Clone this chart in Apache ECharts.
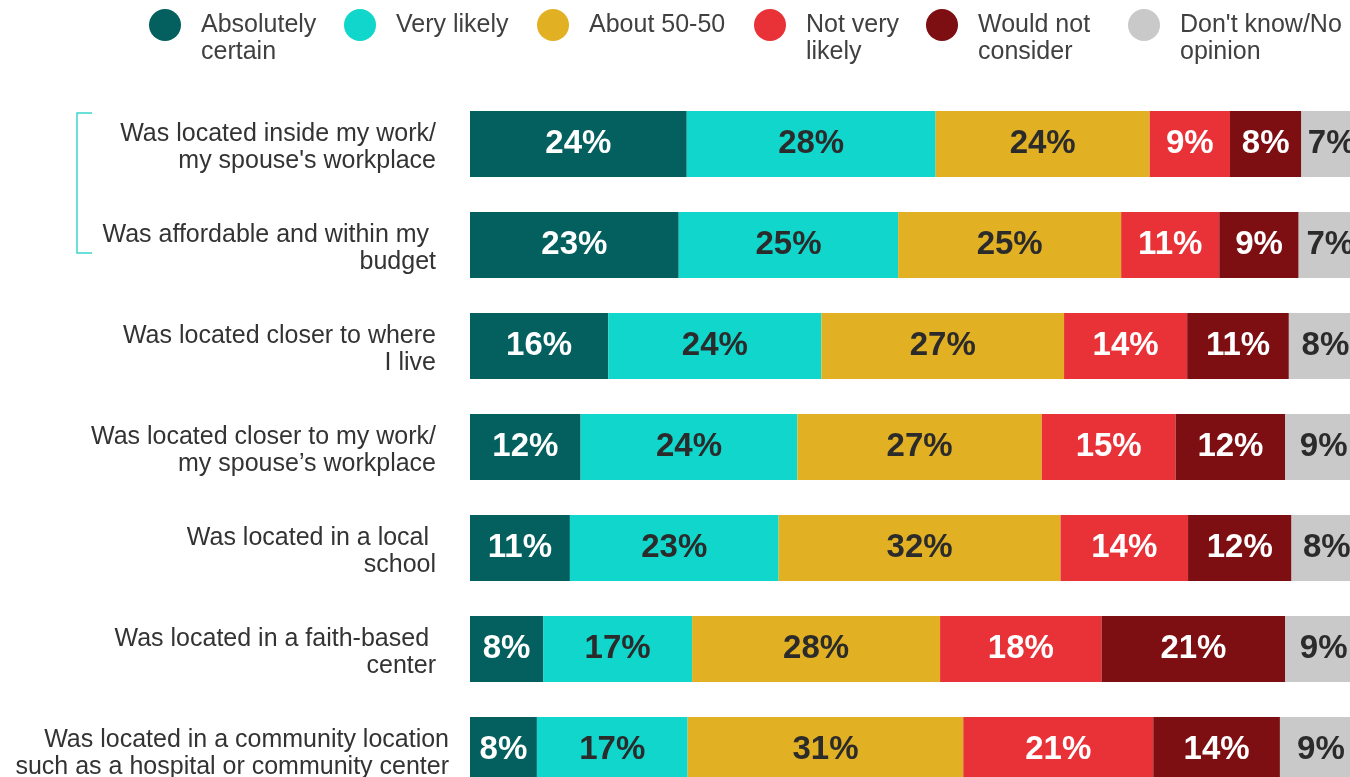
<!DOCTYPE html>
<html>
<head>
<meta charset="utf-8">
<script src="https://cdn.jsdelivr.net/npm/echarts@6/dist/echarts.min.js"></script>
<style>
  html, body { margin: 0; padding: 0; background: #fff; }
  #chart { width: 1350px; height: 777px; }
</style>
</head>
<body>
<div id="chart"></div>
<script>
// categories, top to bottom
var categories = [
    'Was located inside my work/\nmy spouse\'s workplace',
    'Was affordable and within my \nbudget',
    'Was located closer to where\nI live',
    'Was located closer to my work/\nmy spouse\u2019s workplace',
    'Was located in a local \nschool',
    'Was located in a faith-based \ncenter',
    'Was located in a community location\nsuch as a hospital or community center'
];

// values (%); labels show them rounded
var absolutelyCertain = [24.3, 23.4, 15.5, 12.4, 11.2, 8.2, 7.5];
var veryLikely        = [27.9, 24.6, 23.9, 24.3, 23.4, 16.7, 16.9];
var about5050         = [24.0, 25.0, 27.2, 27.4, 31.6, 27.8, 30.9];
var notVeryLikely     = [9.0, 11.0, 13.8, 15.0, 14.3, 18.1, 21.3];
var wouldNotConsider  = [8.0, 8.9, 11.4, 12.3, 11.6, 20.6, 14.2];
var dontKnow          = [6.9, 7.1, 8.2, 8.6, 7.9, 8.6, 9.2];

var seriesNames = ['Absolutely\ncertain', 'Very likely', 'About 50-50',
                   'Not very\nlikely', 'Would not\nconsider', 'Don\'t know/No\nopinion'];

(function () {
    var FONT = '"Liberation Sans", Arial, sans-serif';
    var colors     = ['#03605e', '#10d6cc', '#e2b023', '#e93238', '#7d0e12', '#c9c9c9'];
    var labelColor = ['#fff', '#2b2b2b', '#2b2b2b', '#fff', '#fff', '#2b2b2b'];
    var values     = [absolutelyCertain, veryLikely, about5050, notVeryLikely, wouldNotConsider, dontKnow];
    // icon left edge of each legend entry
    var legendLeft = [149, 344, 537, 754, 926, 1128];

    var chart = echarts.init(document.getElementById('chart'));

    // two-line names get a blank first line so the first real line sits
    // level with the round icon, like the reference
    var legends = seriesNames.map(function (name, i) {
        var twoLines = name.indexOf('\n') >= 0;
        return {
            data: [name],
            left: legendLeft[i],
            top: twoLines ? -15.5 : 9,
            padding: 0,
            icon: 'circle',
            itemWidth: 32,
            itemHeight: 32,
            selectedMode: false,
            formatter: function (n) { return twoLines ? ' \n' + n : n; },
            textStyle: {
                fontFamily: FONT, fontSize: 25, lineHeight: 27, color: '#404040',
                padding: [0, 0, 0, 15]
            }
        };
    });

    // last label is wider and sits closer to the bars
    var catData = categories.map(function (c, i) {
        if (i === categories.length - 1) return { value: c, textStyle: { padding: [0, 0, 0, 0] } };
        return c;
    });

    chart.setOption({
        animation: false,
        legend: legends,
        grid: { left: 470, top: 93.5, width: 892, height: 707, outerBoundsMode: 'none' },
        xAxis: { type: 'value', min: 0, max: 100, show: false },
        yAxis: {
            type: 'category',
            inverse: true,
            data: catData,
            axisLine: { show: false },
            axisTick: { show: false },
            splitLine: { show: false },
            axisLabel: {
                margin: 21,
                align: 'right',
                padding: [0, 13, 0, 0],
                fontFamily: FONT, fontSize: 25, lineHeight: 27, color: '#333',
                formatter: function (v) {
                    return v.split('\n').map(function (l) { return '{t|' + l + '}'; }).join('\n');
                },
                rich: {
                    // top padding nudges each line down a few px
                    t: { fontFamily: FONT, fontSize: 25, lineHeight: 27, color: '#333', padding: [7, 0, 0, 0] }
                }
            }
        },
        graphic: [{
            type: 'polyline',
            shape: { points: [[92, 113], [77, 113], [77, 253], [92, 253]] },
            style: { stroke: '#3ad6cc', lineWidth: 1.5, fill: null }
        }],
        series: seriesNames.map(function (name, i) {
            return {
                name: name,
                type: 'bar',
                stack: 'total',
                barWidth: 66,
                data: values[i],
                itemStyle: { color: colors[i] },
                label: {
                    show: true,
                    position: 'inside',
                    fontFamily: FONT, fontSize: 33, fontWeight: 'bold',
                    color: labelColor[i],
                    formatter: function (p) { return Math.round(p.value) + '%'; }
                }
            };
        })
    });
})();
</script>
</body>
</html>
